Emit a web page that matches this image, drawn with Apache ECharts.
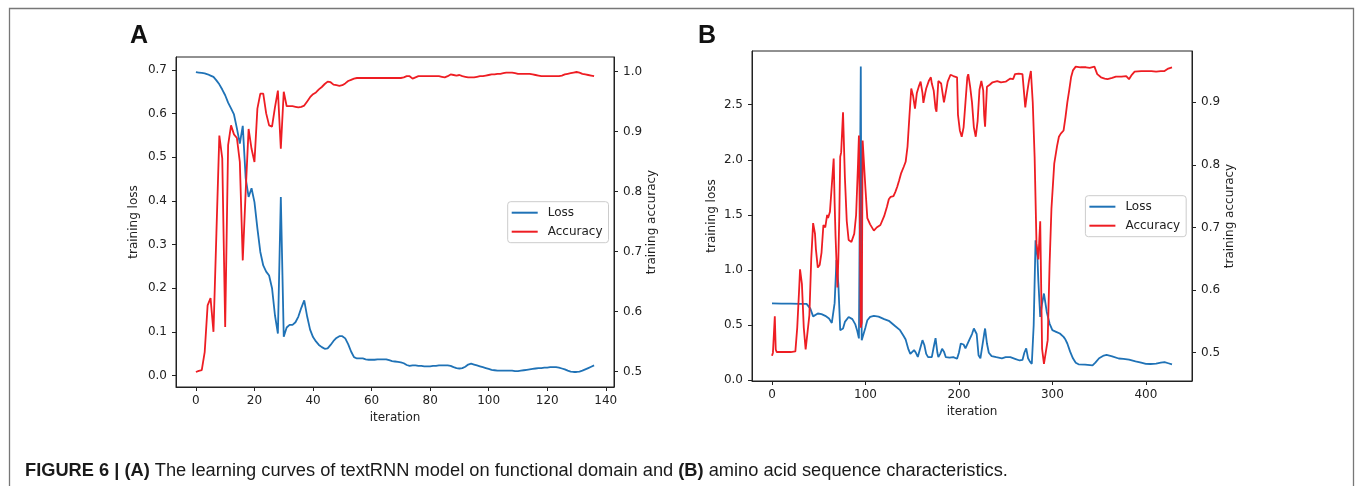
<!DOCTYPE html>
<html><head><meta charset="utf-8">
<script src="https://cdn.jsdelivr.net/npm/echarts@6/dist/echarts.min.js"></script>
<style>html,body{margin:0;padding:0;background:#fff}#c{width:1355px;height:486px}</style>
</head><body><div id="c"></div>
<script>
// ---------- Panel A data (iteration = array index) ----------
const lossA = [0.695,0.694,0.693,0.692,0.690,0.687,0.684,0.676,0.667,0.655,
0.642,0.625,0.612,0.598,0.566,0.531,0.572,0.452,0.409,0.429,
0.397,0.337,0.283,0.252,0.238,0.229,0.200,0.138,0.096,0.409,
0.089,0.110,0.116,0.116,0.122,0.135,0.155,0.172,0.135,0.105,
0.088,0.078,0.070,0.065,0.061,0.062,0.070,0.079,0.086,0.090,
0.090,0.085,0.072,0.055,0.042,0.039,0.039,0.039,0.037,0.036,
0.036,0.036,0.037,0.037,0.037,0.037,0.035,0.033,0.032,0.031,
0.030,0.028,0.024,0.022,0.023,0.023,0.022,0.022,0.021,0.021,
0.021,0.022,0.022,0.023,0.023,0.023,0.023,0.022,0.019,0.017,
0.016,0.017,0.020,0.025,0.027,0.025,0.023,0.021,0.019,0.017,
0.015,0.013,0.012,0.011,0.011,0.011,0.011,0.011,0.011,0.010,
0.010,0.011,0.012,0.013,0.014,0.015,0.016,0.017,0.017,0.018,
0.018,0.019,0.019,0.019,0.018,0.016,0.014,0.011,0.009,0.008,
0.008,0.009,0.011,0.014,0.017,0.020,0.023];
const accA = [0.499,0.501,0.502,0.532,0.610,0.622,0.566,0.730,0.893,0.855,
0.574,0.877,0.910,0.895,0.889,0.849,0.685,0.800,0.904,0.871,
0.849,0.938,0.963,0.963,0.930,0.910,0.908,0.940,0.968,0.871,
0.966,0.942,0.942,0.942,0.941,0.940,0.941,0.943,0.950,0.957,
0.962,0.965,0.970,0.974,0.979,0.983,0.982,0.978,0.977,0.976,
0.977,0.980,0.984,0.986,0.988,0.989,0.989,0.989,0.989,0.989,
0.989,0.989,0.989,0.989,0.989,0.989,0.989,0.989,0.989,0.989,
0.989,0.990,0.992,0.992,0.988,0.990,0.992,0.992,0.992,0.992,
0.992,0.992,0.992,0.992,0.991,0.990,0.992,0.995,0.994,0.993,
0.994,0.992,0.991,0.990,0.990,0.990,0.991,0.992,0.992,0.993,
0.994,0.995,0.995,0.996,0.996,0.997,0.998,0.998,0.998,0.997,
0.996,0.996,0.996,0.996,0.996,0.995,0.994,0.993,0.992,0.992,
0.992,0.992,0.992,0.992,0.992,0.993,0.995,0.996,0.997,0.998,
0.999,0.998,0.996,0.995,0.994,0.993,0.992];

// ---------- Panel B data ----------
const lossIterB = [0,10,20,30,37,39,41,44,46,49,53,57,61,64,66,67,69,71,73,75,76,78,82,86,89,91,93,94,95,96,98,100,102,105,109,114,120,125,132,137,141,143,146,148,150,152,154,156,158,161,163,165,167,171,173,175,177,178,180,182,184,186,190,194,198,200,202,205,207,209,211,214,216,218,219,221,223,225,227,228,230,232,235,240,246,250,255,260,265,268,270,272,274,276,278,280,282,284,285,287,289,291,294,297,300,304,308,312,314,316,319,322,325,328,335,343,346,350,355,358,364,371,376,382,389,395,400,405,411,416,420,424,428];
const lossB = [0.697,0.696,0.695,0.694,0.693,0.680,0.650,0.580,0.595,0.606,0.600,0.585,0.560,0.520,0.530,0.700,1.090,0.870,0.455,0.440,0.470,0.530,0.575,0.555,0.510,0.455,0.380,0.364,2.846,0.364,0.364,0.480,0.545,0.575,0.584,0.578,0.555,0.540,0.490,0.455,0.400,0.370,0.280,0.240,0.225,0.274,0.250,0.212,0.230,0.364,0.320,0.240,0.210,0.210,0.300,0.382,0.250,0.210,0.240,0.287,0.260,0.210,0.205,0.210,0.196,0.250,0.334,0.325,0.290,0.280,0.364,0.420,0.470,0.485,0.420,0.228,0.200,0.210,0.420,0.470,0.334,0.250,0.220,0.210,0.200,0.210,0.210,0.195,0.180,0.185,0.250,0.290,0.200,0.170,0.150,0.500,1.270,1.120,0.900,0.575,0.697,0.787,0.620,0.515,0.455,0.440,0.425,0.394,0.370,0.334,0.260,0.200,0.160,0.145,0.143,0.135,0.160,0.200,0.225,0.230,0.218,0.198,0.195,0.187,0.172,0.160,0.150,0.148,0.152,0.160,0.165,0.155,0.145];
const accIterB = [0,1,2,3,4,5,10,15,20,25,27,29,30,32,34,36,38,40,42,44,46,47,49,51,53,55,57,59,60,62,64,66,67,68,70,71,72,73,74,76,78,80,82,85,88,90,92,93,94,95,96,97,98,100,102,105,109,112,116,118,120,123,125,127,130,132,134,136,138,141,143,145,147,149,151,153,155,157,159,161,162,164,165,168,170,171,173,175,176,178,181,183,184,186,188,191,194,196,198,199,201,203,205,207,209,210,212,214,216,218,220,222,224,226,227,228,230,233,236,241,245,250,255,258,260,264,266,268,270,271,273,275,277,279,281,283,285,287,289,291,293,295,297,299,302,305,307,309,312,314,316,318,320,322,325,330,336,340,345,348,352,356,359,364,368,374,379,382,385,388,395,400,406,411,416,420,424,428];
const accB = [0.495,0.500,0.503,0.558,0.505,0.501,0.501,0.501,0.501,0.502,0.540,0.600,0.633,0.610,0.540,0.505,0.503,0.560,0.650,0.707,0.690,0.665,0.636,0.640,0.660,0.704,0.700,0.720,0.715,0.725,0.728,0.810,0.740,0.686,0.604,0.650,0.717,0.813,0.820,0.884,0.780,0.710,0.680,0.677,0.690,0.720,0.800,0.847,0.700,0.540,0.548,0.839,0.840,0.762,0.715,0.705,0.695,0.700,0.704,0.702,0.718,0.733,0.745,0.749,0.750,0.757,0.765,0.775,0.786,0.797,0.805,0.829,0.877,0.922,0.910,0.890,0.915,0.925,0.933,0.915,0.899,0.915,0.922,0.935,0.940,0.930,0.919,0.890,0.885,0.934,0.930,0.910,0.900,0.900,0.933,0.944,0.942,0.945,0.940,0.880,0.855,0.845,0.860,0.900,0.940,0.945,0.925,0.900,0.860,0.845,0.870,0.920,0.934,0.919,0.880,0.861,0.925,0.928,0.932,0.934,0.932,0.933,0.938,0.937,0.945,0.946,0.948,0.945,0.910,0.892,0.915,0.935,0.950,0.900,0.813,0.675,0.649,0.710,0.506,0.482,0.482,0.520,0.640,0.730,0.802,0.830,0.845,0.850,0.855,0.876,0.900,0.919,0.940,0.951,0.957,0.956,0.956,0.955,0.957,0.945,0.940,0.938,0.937,0.939,0.941,0.941,0.942,0.937,0.944,0.949,0.950,0.950,0.950,0.949,0.950,0.950,0.954,0.956];

// ---------- ticks ----------
const xTicksA = [0,20,40,60,80,100,120,140];
const yLossTicksA = [0.0,0.1,0.2,0.3,0.4,0.5,0.6,0.7];
const yAccTicksA = [0.5,0.6,0.7,0.8,0.9,1.0];
const xTicksB = [0,100,200,300,400];
const yLossTicksB = [0.0,0.5,1.0,1.5,2.0,2.5];
const yAccTicksB = [0.5,0.6,0.7,0.8,0.9];

const FONT = 'DejaVu Sans';
const INK = '#222222';
const BLUE = '#1f72b6';
const RED = '#ee1d23';

function mkAxis(o) {
  return {
    type: 'value', gridIndex: o.grid, position: o.position,
    min: o.min, max: o.max,
    name: o.name, nameLocation: 'middle', nameGap: o.gap,
    nameTextStyle: {color: INK, fontFamily: FONT, fontSize: 12},
    axisLine: {show: true, onZero: false, lineStyle: {color: INK, width: 1}},
    axisTick: {show: true, inside: false, length: 4, customValues: o.ticks, lineStyle: {color: INK, width: 1}},
    axisLabel: {show: true, customValues: o.ticks, margin: o.margin, color: INK, fontFamily: FONT, fontSize: 12,
      formatter: v => o.digits >= 0 ? Number(v).toFixed(o.digits) : String(Math.round(v))},
    splitLine: {show: false}
  };
}

function mkLegend(left, top) {
  return {
    data: ['Loss', 'Accuracy'], orient: 'vertical', left: left, top: top,
    icon: 'rect', itemWidth: 26, itemHeight: 2, itemGap: 5,
    padding: [4, 6, 4, 4], backgroundColor: 'rgba(255,255,255,0.85)',
    borderColor: '#cccccc', borderWidth: 1, borderRadius: 3, selectedMode: false,
    textStyle: {fontFamily: FONT, fontSize: 12, color: INK, lineHeight: 14, padding: [0, 0, 0, 5]}
  };
}

function lineSeries(name, xi, yi, data, color) {
  return {
    type: 'line', name: name, xAxisIndex: xi, yAxisIndex: yi, data: data,
    showSymbol: false, symbol: 'none', silent: true,
    lineStyle: {color: color, width: 1.8}, itemStyle: {color: color}
  };
}

const option = {
  animation: false,
  backgroundColor: '#ffffff',
  grid: [
    {left: 176, top: 57, width: 438, height: 330, show: true, borderColor: INK, borderWidth: 1},
    {left: 752, top: 51, width: 440, height: 330, show: true, borderColor: INK, borderWidth: 1}
  ],
  xAxis: [
    mkAxis({grid: 0, position: 'bottom', min: -6.8, max: 142.8, ticks: xTicksA, digits: -1, name: 'iteration', gap: 24, margin: 8}),
    mkAxis({grid: 1, position: 'bottom', min: -21.4, max: 449.4, ticks: xTicksB, digits: -1, name: 'iteration', gap: 24, margin: 8})
  ],
  yAxis: [
    mkAxis({grid: 0, position: 'left', min: -0.0264, max: 0.7296, ticks: yLossTicksA, digits: 1, name: 'training loss', gap: 36, margin: 9}),
    mkAxis({grid: 0, position: 'right', min: 0.474, max: 1.024, ticks: yAccTicksA, digits: 1, name: 'training accuracy', gap: 32, margin: 9}),
    mkAxis({grid: 1, position: 'left', min: -0.006, max: 2.986, ticks: yLossTicksB, digits: 1, name: 'training loss', gap: 34, margin: 9}),
    mkAxis({grid: 1, position: 'right', min: 0.4547, max: 0.982, ticks: yAccTicksB, digits: 1, name: 'training accuracy', gap: 32, margin: 9})
  ],
  legend: [mkLegend(507.7, 201.7), mkLegend(1085.4, 195.7)],
  series: [
    lineSeries('Loss', 0, 0, lossA.map((v, i) => [i, v]), BLUE),
    lineSeries('Accuracy', 0, 1, accA.map((v, i) => [i, v]), RED),
    lineSeries('Loss', 1, 2, lossIterB.map((x, k) => [x, lossB[k]]), BLUE),
    lineSeries('Accuracy', 1, 3, accIterB.map((x, k) => [x, accB[k]]), RED)
  ],
  graphic: [
    {type: 'polyline', silent: true, shape: {points: [[9.5, 490], [9.5, 8.5], [1353.5, 8.5], [1353.5, 490]]},
      style: {stroke: '#777777', lineWidth: 1.3, fill: null}},
    {type: 'text', silent: true, x: 139, y: 36, style: {text: 'A', font: 'bold 25px "Liberation Sans", Arial, sans-serif', fill: '#111', align: 'center', verticalAlign: 'middle'}},
    {type: 'text', silent: true, x: 707, y: 36.5, style: {text: 'B', font: 'bold 25px "Liberation Sans", Arial, sans-serif', fill: '#111', align: 'center', verticalAlign: 'middle'}},
    {type: 'text', silent: true, x: 25, y: 471, style: {
      text: '{b|FIGURE 6 | (A)}{r| The learning curves of textRNN model on functional domain and }{b|(B)}{r| amino acid sequence characteristics.}',
      align: 'left', verticalAlign: 'middle',
      rich: {
        b: {fontFamily: '"Liberation Sans", Arial, sans-serif', fontWeight: 'bold', fontSize: 18.25, fill: '#1a1a1a'},
        r: {fontFamily: '"Liberation Sans", Arial, sans-serif', fontSize: 18.25, fill: '#1a1a1a'}
      }
    }}
  ]
};

const chart = echarts.init(document.getElementById('c'), null, {renderer: 'canvas'});
chart.setOption(option);
</script>
</body></html>
